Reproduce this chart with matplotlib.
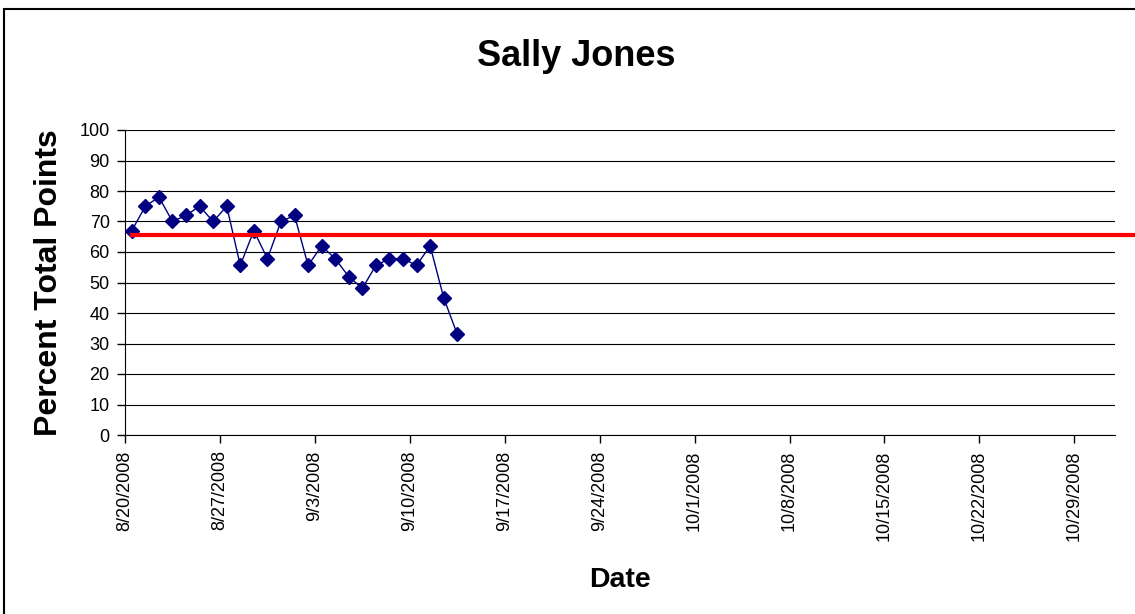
import numpy as np
import pandas as pd
import matplotlib
matplotlib.use("Agg")
import matplotlib.pyplot as plt
from matplotlib.patches import Rectangle

plt.rcParams['font.family'] = ['Liberation Sans', 'DejaVu Sans']

# daily scores (percent of total points)
dates = ["2008-08-20", "2008-08-21", "2008-08-22", "2008-08-23", "2008-08-24",
         "2008-08-25", "2008-08-26", "2008-08-27", "2008-08-28", "2008-08-29",
         "2008-08-30", "2008-08-31", "2008-09-01", "2008-09-02", "2008-09-03",
         "2008-09-04", "2008-09-05", "2008-09-06", "2008-09-07", "2008-09-08",
         "2008-09-09", "2008-09-10", "2008-09-11", "2008-09-12", "2008-09-13"]
percent = [67, 75, 78, 70, 72, 75, 70, 75, 55.6, 67, 57.8, 70, 72, 55.6, 62,
           57.8, 51.9, 48.1, 55.6, 57.8, 57.8, 55.6, 62, 45, 33]
goal = 65.5

tick_dates = ["2008-08-20", "2008-08-27", "2008-09-03", "2008-09-10", "2008-09-17",
              "2008-09-24", "2008-10-01", "2008-10-08", "2008-10-15", "2008-10-22",
              "2008-10-29"]

# Excel puts each point in the middle of its day
x = pd.to_datetime(dates) + pd.Timedelta(hours=12)
ticks = pd.to_datetime(tick_dates)

fig = plt.figure(figsize=(11.35, 6.14), dpi=100)
ax = fig.add_axes([125 / 1135, 1 - 435 / 614, (1115 - 125) / 1135, (435 - 130) / 614])

# chart border
fig.patches.append(Rectangle((4 / 1135, -0.05), 1.1, 1 - 9 / 614 + 0.05,
                             transform=fig.transFigure, fill=False,
                             edgecolor='black', linewidth=1.5))

ax.plot(x, percent, color='#000080', linewidth=1, marker='D', markersize=7.5,
        markerfacecolor='#000080', markeredgecolor='#000080', zorder=4)

x_min = pd.Timestamp("2008-08-20")
x_max = pd.Timestamp("2008-08-20") + pd.Timedelta(days=73)
ax.plot([x[0], x_max + pd.Timedelta(days=10)], [goal, goal], color='#ff0000',
        linewidth=3, clip_on=False, zorder=5)

ax.set_xlim(x_min, x_max)
ax.set_ylim(0, 100)
ax.set_yticks(np.arange(0, 101, 10))
ax.set_xticks(ticks)
ax.set_xticklabels([f"{d.month}/{d.day}/{d.year}" for d in ticks], rotation=90)
ax.tick_params(axis='both', labelsize=13, length=6, width=1, color='black')
ax.tick_params(axis='x', pad=5)
ax.tick_params(axis='y', pad=5)

ax.grid(axis='y', color='black', linewidth=0.8)
ax.set_axisbelow(True)
for side in ['top', 'right']:
    ax.spines[side].set_visible(False)
for side in ['left', 'bottom']:
    ax.spines[side].set_color('black')

fig.text(49 / 1135, 1 - 283 / 614, "Percent Total Points", rotation=90,
         ha='center', va='center', fontsize=23, fontweight='bold')
fig.text(620 / 1135, 1 - 587 / 614, "Date", ha='center', va='baseline',
         fontsize=20.5, fontweight='bold')
fig.text(576 / 1135, 1 - 66 / 614, "Sally Jones", ha='center', va='baseline',
         fontsize=26, fontweight='bold')

fig.savefig("out.png", dpi=100)
